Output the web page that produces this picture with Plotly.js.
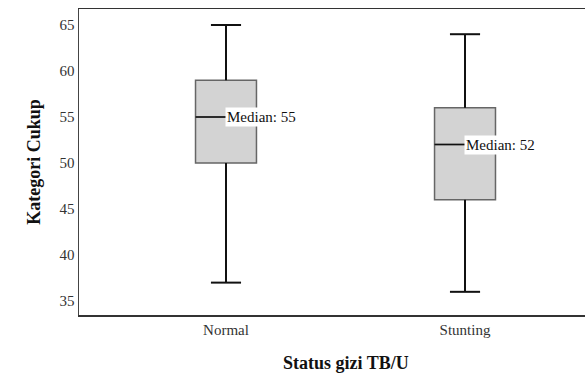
<!DOCTYPE html>
<html>
<head>
<meta charset="utf-8">
<script src="https://cdn.plot.ly/plotly-3.0.1.min.js"></script>
<style>html,body{margin:0;padding:0;background:#fff;}#chart{width:585px;height:376px;}</style>
</head>
<body>
<div id="chart"></div>
<script>
// Data
const categories = ["Normal", "Stunting"];
const minVals = [37, 36];
const q1Vals = [50, 46];
const medianVals = [55, 52];
const q3Vals = [59, 56];
const maxVals = [65, 64];
const medianLabels = ["Median: 55", "Median: 52"];

const FONT = "Liberation Serif, Times New Roman, serif";
const boxWidth = 0.255;
const capHalf = 0.063;
const positions = categories.map((c, i) => i);

const traces = [];
traces.push({
  type: "box",
  x: positions,
  q1: q1Vals,
  median: medianVals,
  q3: q3Vals,
  lowerfence: minVals,
  upperfence: maxVals,
  width: boxWidth,
  whiskerwidth: 0,
  fillcolor: "#d3d3d3",
  line: {color: "#666666", width: 1.5},
  boxpoints: false,
  hoverinfo: "skip",
  showlegend: false
});

// whiskers, caps and medians in black
const wx = [], wy = [];
positions.forEach((p, i) => {
  wx.push(p, p, null, p, p, null, p - capHalf, p + capHalf, null, p - capHalf, p + capHalf, null);
  wy.push(q3Vals[i], maxVals[i], null, q1Vals[i], minVals[i], null, maxVals[i], maxVals[i], null, minVals[i], minVals[i], null);
});
traces.push({
  type: "scatter", mode: "lines", x: wx, y: wy,
  line: {color: "#111111", width: 2}, hoverinfo: "skip", showlegend: false
});
const mx = [], my = [];
positions.forEach((p, i) => {
  mx.push(p - boxWidth / 2, p + boxWidth / 2, null);
  my.push(medianVals[i], medianVals[i], null);
});
traces.push({
  type: "scatter", mode: "lines", x: mx, y: my,
  line: {color: "#111111", width: 1.5}, hoverinfo: "skip", showlegend: false
});

const annotations = positions.map((p, i) => ({
  x: p, y: medianVals[i], xref: "x", yref: "y",
  text: medianLabels[i], showarrow: false,
  xanchor: "left", yanchor: "middle", xshift: -1,
  bgcolor: "#ffffff", borderpad: 1,
  font: {family: FONT, size: 15, color: "#111111"}
}));
annotations.push({
  x: 0.5, y: 0, xref: "x", yref: "paper", yshift: -48,
  text: "<b>Status gizi TB/U</b>", showarrow: false,
  xanchor: "center", yanchor: "middle",
  font: {family: FONT, size: 18, color: "#111111"}
});

const layout = {
  width: 585, height: 376,
  margin: {l: 79, r: 0, t: 9, b: 61},
  paper_bgcolor: "#ffffff", plot_bgcolor: "#ffffff",
  showlegend: false,
  font: {family: FONT, size: 15, color: "#333333"},
  xaxis: {
    range: [-0.615, 1.502],
    tickvals: positions, ticktext: categories,
    showgrid: false, zeroline: false,
    showline: true, mirror: true, linecolor: "#333333", linewidth: 1.5,
    ticks: "", tickfont: {family: FONT, size: 15, color: "#333333"},
    fixedrange: true
  },
  yaxis: {
    range: [33.48, 66.74],
    dtick: 5, tick0: 35,
    showgrid: false, zeroline: false,
    showline: true, mirror: false, linecolor: "#444444", linewidth: 1.5,
    ticks: "", tickfont: {family: FONT, size: 15, color: "#333333"},
    title: {text: "<b>Kategori Cukup</b>", font: {family: FONT, size: 18, color: "#111111"}, standoff: 14},
    fixedrange: true
  },
  annotations: annotations
};

Plotly.newPlot("chart", traces, layout, {displayModeBar: false, staticPlot: true});
</script>
</body>
</html>
